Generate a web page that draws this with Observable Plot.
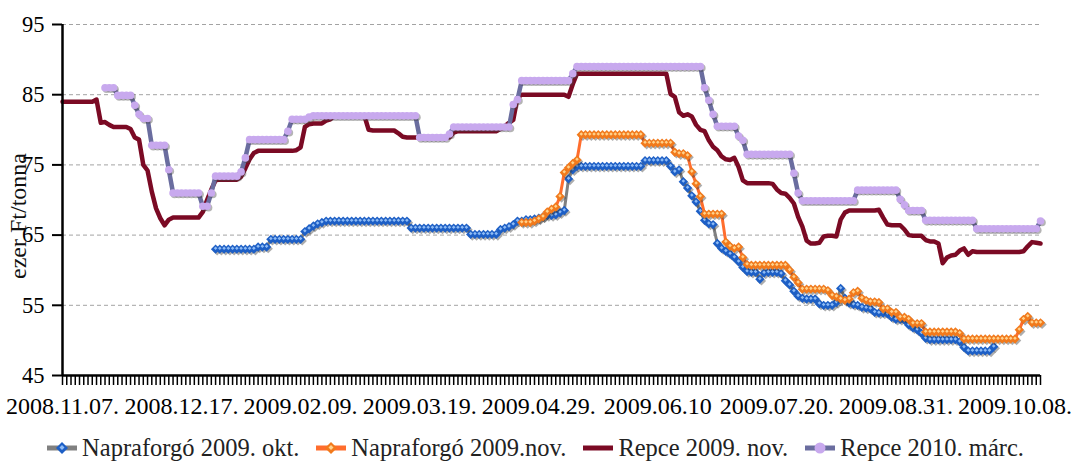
<!DOCTYPE html>
<html><head><meta charset="utf-8">
<script src="https://cdn.jsdelivr.net/npm/d3@7"></script>
<script src="https://cdn.jsdelivr.net/npm/@observablehq/plot@0.6"></script>
<style>
body{margin:0;background:#fff;font-family:"Liberation Serif","Times New Roman",Times,"DejaVu Serif",serif;}
#chart svg{display:block;}
#chart svg text{font-family:"Liberation Serif","Times New Roman",Times,"DejaVu Serif",serif !important;}
#legend{display:flex;justify-content:center;gap:17px;height:36px;margin-top:5px;align-items:center;font-size:24.5px;color:#222;}
.item{display:flex;align-items:center;gap:5px;white-space:nowrap;}
.item svg{display:block;}
</style></head><body>
<div id="chart"></div><div id="legend"></div>
<script>
// x categories: trading days, index 0..230; visible tick labels every 28 categories
const tickLabels = ["2008.11.07.","2008.12.17.","2009.02.09.","2009.03.19.","2009.04.29.","2009.06.10","2009.07.20.","2009.08.31.","2009.10.08."];
const yTicks = [45,55,65,75,85,95];
const gridValues = [55,65,75,85,95];
const seriesNames = ["Napraforgó 2009. okt.","Napraforgó 2009.nov.","Repce 2009. nov.","Repce 2010. márc."];

// Repce 2009. nov. (starts at category 0)
const repce2009novStart = 0;
const repce2009nov = [
84,84,84,84,84,84,84,84,84.3,81.0,81.1,80.7,80.4,80.4,80.4,80.4,80.1,78.9,78.6,75.0,
74.2,71.2,68.8,67.4,66.4,67.2,67.5,67.5,67.5,67.5,67.5,67.5,67.5,68.3,70.0,71.5,72.8,72.9,72.9,72.9,
72.9,72.9,73.3,74.5,75.8,76.7,77.0,77.0,77.0,77.0,77.0,77.0,77.0,77.0,77.0,77.1,77.5,80.4,80.8,80.9,
80.9,80.9,81.3,81.5,82.0,82.0,82.0,82.0,82.0,82.0,82.0,82.0,80.0,79.9,79.9,79.9,79.9,79.9,79.9,79.5,
79.0,78.9,78.9,78.9,78.9,78.9,78.9,78.9,78.9,78.9,78.9,78.9,79.6,79.8,79.8,79.8,79.8,79.8,79.8,79.8,
79.8,79.8,79.8,80.1,80.5,81.0,81.4,84.6,85.0,85.0,85.0,85.0,85.0,85.0,85.0,85.0,85.0,85.0,85.0,84.7,
86.5,88.0,88.0,88.0,88.0,88.0,88.0,88.0,88.0,88.0,88.0,88.0,88.0,88.0,88.0,88.0,88.0,88.0,88.0,88.0,
88.0,88.0,88.0,85.1,84.7,82.5,82.0,82.2,81.9,80.7,80.0,79.8,78.5,77.6,77.1,76.2,75.8,75.7,76.0,74.7,
72.8,72.4,72.4,72.4,72.4,72.4,72.4,72.3,71.5,71.0,70.9,70.3,69.5,67.6,66.2,64.2,63.8,63.8,63.9,64.8,
64.9,64.9,64.8,67.2,68.2,68.5,68.5,68.5,68.5,68.5,68.5,68.5,68.6,67.5,66.5,66.4,66.4,66.4,65.8,65.0,
64.9,64.9,64.9,64.3,64.1,64.1,63.8,61.0,61.8,62.1,62.2,62.8,63.1,62.2,62.7,62.6,62.6,62.6,62.6,62.6,
62.6,62.6,62.6,62.6,62.6,62.6,62.7,63.4,64.0,63.9,63.8
];

// Repce 2010. márc. (starts at category 10)
const repce2010marcStart = 10;
const repce2010marc = [
86.0,86.0,86.0,84.9,84.9,84.9,84.9,83.5,82.2,81.6,81.6,77.8,77.8,77.8,77.8,74.3,71.0,71.0,71.0,71.0,
71.0,71.0,71.0,69.1,69.1,71.0,73.4,73.4,73.4,73.4,73.4,73.4,74.0,76.0,78.6,78.6,78.6,78.6,78.6,78.6,
78.6,78.6,78.6,79.8,81.5,81.5,81.5,81.5,81.8,82.0,82.0,82.0,82.0,82.0,82.0,82.0,82.0,82.0,82.0,82.0,
82.0,82.0,82.0,82.0,82.0,82.0,82.0,82.0,82.0,82.0,82.0,82.0,82.0,82.0,78.9,78.9,78.9,78.9,78.9,78.9,
78.9,79.4,80.4,80.4,80.4,80.4,80.4,80.4,80.4,80.4,80.4,80.4,80.4,80.4,80.4,80.4,83.6,84.3,87.0,87.0,
87.0,87.0,87.0,87.0,87.0,87.0,87.0,87.0,87.0,87.0,88.0,89.0,89.0,89.0,89.0,89.0,89.0,89.0,89.0,89.0,
89.0,89.0,89.0,89.0,89.0,89.0,89.0,89.0,89.0,89.0,89.0,89.0,89.0,89.0,89.0,89.0,89.0,89.0,89.0,89.0,
89.0,86.0,84.2,82.2,80.5,80.5,80.5,80.5,80.5,79.1,78.5,76.5,76.5,76.5,76.5,76.5,76.5,76.5,76.5,76.5,
76.5,76.5,73.8,71.0,69.9,69.9,69.9,69.9,69.9,69.9,69.9,69.9,69.9,69.9,69.9,69.9,69.9,71.4,71.4,71.4,
71.4,71.4,71.4,71.4,71.4,71.4,71.4,70.1,69.3,68.5,68.5,68.5,68.5,67.1,67.1,67.1,67.1,67.1,67.1,67.1,
67.1,67.1,67.1,67.1,67.1,65.9,65.9,65.9,65.9,65.9,65.9,65.9,65.9,65.9,65.9,65.9,65.9,65.9,65.9,65.9,
67.0
];

// Napraforgó 2009. okt. (starts at category 36)
const napraforgo2009oktStart = 36;
const napraforgo2009okt = [
63.0,63.0,63.0,63.0,63.0,63.0,63.0,63.0,63.0,63.0,63.3,63.3,63.3,64.4,64.4,64.4,64.4,64.4,64.4,64.4,
64.4,65.5,65.9,66.3,66.6,66.8,67.0,67.0,67.0,67.0,67.0,67.0,67.0,67.0,67.0,67.0,67.0,67.0,67.0,67.0,
67.0,67.0,67.0,67.0,67.0,67.0,66.0,66.0,66.0,66.0,66.0,66.0,66.0,66.0,66.0,66.0,66.0,66.0,66.0,66.0,
65.1,65.1,65.1,65.1,65.1,65.1,65.1,65.8,66.0,66.2,66.5,67.0,67.0,67.2,67.2,67.3,67.4,67.6,67.8,67.8,
67.9,68.2,68.5,73.0,74.3,74.8,74.8,74.8,74.8,74.8,74.8,74.8,74.8,74.8,74.8,74.8,74.8,74.8,74.8,74.8,
74.8,75.6,75.6,75.6,75.6,75.6,75.6,74.8,74.0,74.3,72.6,71.7,70.6,69.7,68.4,67.1,66.6,66.5,63.8,63.1,
62.7,62.3,61.8,61.2,60.4,59.8,59.7,59.7,58.7,59.6,59.7,59.7,59.7,59.5,58.5,57.9,57.0,56.3,56.0,55.9,
55.9,55.9,55.2,55.0,55.0,55.0,55.4,57.4,56.0,55.3,55.1,55.0,54.7,54.6,54.5,54.0,53.9,53.9,53.8,53.3,
53.0,53.0,52.9,52.2,51.8,51.5,51.0,50.3,50.1,50.1,50.1,50.1,50.1,50.1,50.1,49.8,49.0,48.5,48.5,48.5,
48.5,48.5,48.5,49.1
];

// Napraforgó 2009.nov. (starts at category 108)
const napraforgo2009novStart = 108;
const napraforgo2009nov = [
66.8,66.8,66.8,67.0,67.3,67.6,68.3,68.7,69.0,70.5,73.9,74.6,75.2,75.7,79.3,79.3,79.3,79.3,79.3,79.3,
79.3,79.3,79.3,79.3,79.3,79.3,79.3,79.3,79.3,78.1,78.1,78.1,78.1,78.1,78.1,78.1,76.8,76.6,76.6,76.3,
74.0,72.3,70.5,68.0,68.0,68.0,68.0,68.0,64.0,63.4,63.1,63.3,61.8,60.8,60.7,60.7,60.7,60.7,60.7,60.7,
60.7,60.7,60.7,60.0,59.0,58.2,57.3,57.3,57.3,57.3,57.3,57.3,57.1,56.4,56.2,55.9,55.7,55.9,56.8,57.0,
56.0,55.7,55.5,55.5,55.4,54.5,54.5,54.0,54.0,53.3,53.3,53.0,52.4,52.4,52.4,51.2,51.2,51.2,51.2,51.2,
51.2,51.2,51.2,51.0,50.2,50.2,50.2,50.2,50.2,50.2,50.2,50.2,50.2,50.2,50.2,50.2,50.2,51.5,53.0,53.4,
52.5,52.5,52.5
];

const LABEL_EVERY = 28;
const labelIdx = tickLabels.map((_, k) => k * LABEL_EVERY);
const nCats = repce2009nov.length;

const rows = (vals, start) => vals.map((v, k) => ({i: start + k, v}));
const okt = rows(napraforgo2009okt, napraforgo2009oktStart);
const nov = rows(napraforgo2009nov, napraforgo2009novStart);
const r09 = rows(repce2009nov, repce2009novStart);
const r10 = rows(repce2010marc, repce2010marcStart);

const C = {
  oktLine: "#808080", oktFill: "#1d5fc6", oktHi: "#8fbcf5",
  novLine: "#ff6d2d", novFill: "#f27a1c", novHi: "#ffd28c",
  r09Line: "#7b0a24",
  r10Line: "#6a6d9f", r10Fill: "#c8a9ee"
};
const FONT = "'Liberation Serif', 'Times New Roman', Times, 'DejaVu Serif', serif";

const W = 1071, H = 425;
const chart = Plot.plot({
  width: W, height: H,
  marginLeft: 62, marginRight: W - 1040, marginTop: 24, marginBottom: H - 375,
  style: {fontFamily: FONT, color: "#000", background: "#fff", overflow: "visible"},
  x: {domain: [0, nCats - 1]},
  y: {domain: [45, 95]},
  marks: [
    Plot.ruleY(gridValues, {stroke: "#a3a3a3", strokeWidth: 1, strokeDasharray: "4,3"}),
    Plot.axisY({ticks: yTicks, tickSize: 10, tickPadding: 8, fontSize: 22.5, label: null, strokeWidth: 2, tickFormat: d => String(d)}),
    Plot.axisX({ticks: d3.range(0, nCats), tickSize: 10, tickFormat: () => "", strokeWidth: 1.5, label: null}),
    Plot.axisX({ticks: labelIdx, tickSize: 0, tickPadding: 21, fontSize: 24, label: null,
      tickFormat: d => tickLabels[labelIdx.indexOf(d)]}),
    // Napraforgó 2009. okt.
    Plot.line(okt, {x: "i", y: "v", stroke: C.oktLine, strokeWidth: 3}),
    Plot.dot(okt, {x: "i", y: "v", symbol: "diamond2", r: 4.2, fill: "#333", fillOpacity: 0.4, dx: 1.6, dy: 1.6}),
    Plot.dot(okt, {x: "i", y: "v", symbol: "diamond2", r: 4.2, fill: C.oktFill}),
    Plot.dot(okt, {x: "i", y: "v", symbol: "diamond2", r: 1.6, fill: C.oktHi, dy: -0.8}),
    // Napraforgó 2009.nov.
    Plot.line(nov, {x: "i", y: "v", stroke: C.novLine, strokeWidth: 3}),
    Plot.dot(nov, {x: "i", y: "v", symbol: "diamond2", r: 4.2, fill: "#333", fillOpacity: 0.4, dx: 1.6, dy: 1.6}),
    Plot.dot(nov, {x: "i", y: "v", symbol: "diamond2", r: 4.2, fill: C.novFill}),
    Plot.dot(nov, {x: "i", y: "v", symbol: "diamond2", r: 1.6, fill: C.novHi, dy: -0.8}),
    // Repce 2009. nov.
    Plot.line(r09, {x: "i", y: "v", stroke: C.r09Line, strokeWidth: 4.5}),
    // Repce 2010. márc.
    Plot.line(r10, {x: "i", y: "v", stroke: C.r10Line, strokeWidth: 4.5}),
    Plot.dot(r10, {x: "i", y: "v", r: 3.8, fill: "#444", fillOpacity: 0.4, dx: 1.5, dy: 1.5}),
    Plot.dot(r10, {x: "i", y: "v", r: 3.8, fill: C.r10Fill}),
    // axis lines
    Plot.ruleX([0], {stroke: "#000", strokeWidth: 2.5}),
    Plot.ruleY([45], {stroke: "#000", strokeWidth: 2.5}),
    Plot.text(["ezer Ft/tonna"], {text: d => d, frameAnchor: "left", textAnchor: "middle", dx: -44, dy: 16, rotate: -90, fontSize: 24, fill: "#111"})
  ]
});
document.getElementById("chart").appendChild(chart);

// legend
const legend = document.getElementById("legend");
const sym = [
  `<svg width="30" height="16"><line x1="0" y1="8" x2="30" y2="8" stroke="${C.oktLine}" stroke-width="5"/><path d="M15 2 L21 8 L15 14 L9 8Z" fill="${C.oktFill}"/><path d="M15 5 L17.5 7.5 L15 10 L12.5 7.5Z" fill="${C.oktHi}"/></svg>`,
  `<svg width="30" height="16"><line x1="0" y1="8" x2="30" y2="8" stroke="${C.novLine}" stroke-width="5"/><path d="M15 2 L21 8 L15 14 L9 8Z" fill="${C.novFill}"/><path d="M15 5 L17.5 7.5 L15 10 L12.5 7.5Z" fill="${C.novHi}"/></svg>`,
  `<svg width="30" height="16"><line x1="0" y1="8" x2="30" y2="8" stroke="${C.r09Line}" stroke-width="5"/></svg>`,
  `<svg width="30" height="16"><line x1="0" y1="8" x2="30" y2="8" stroke="${C.r10Line}" stroke-width="5"/><circle cx="15" cy="8" r="5.5" fill="${C.r10Fill}"/></svg>`
];
seriesNames.forEach((name, k) => {
  const d = document.createElement("div");
  d.className = "item";
  d.innerHTML = sym[k] + `<span>${name}</span>`;
  legend.appendChild(d);
});
</script>
</body></html>
